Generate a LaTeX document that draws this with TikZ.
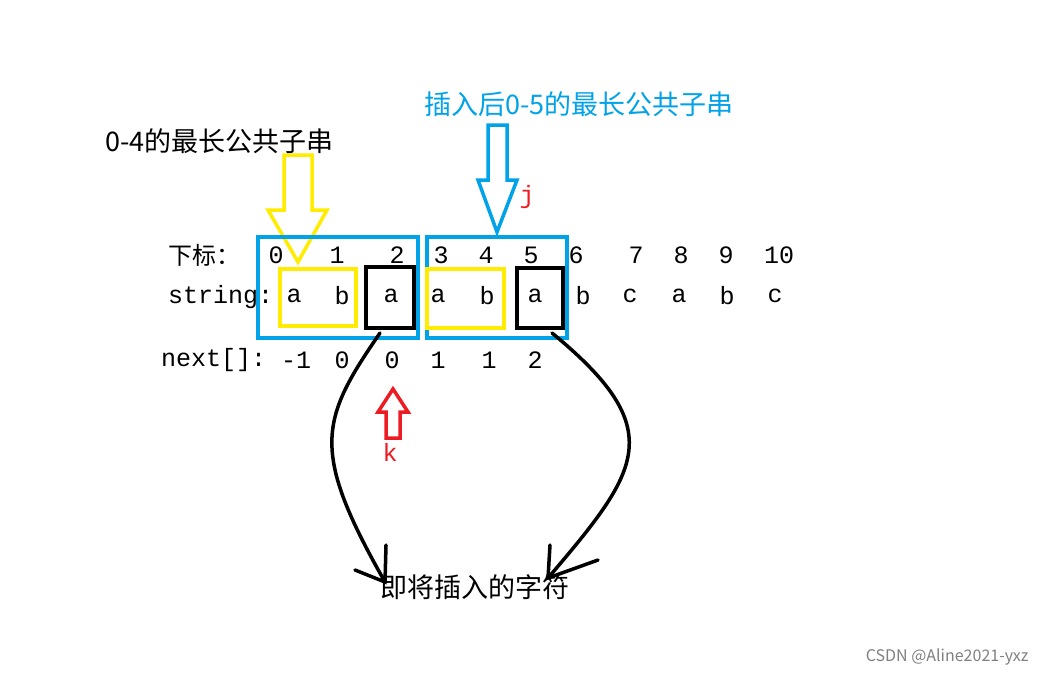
\documentclass[tikz,border=0pt]{standalone}
\usepackage{fontspec}
\setmainfont{Noto Sans CJK SC}
\newfontfamily\lat{Liberation Mono}
\usetikzlibrary{arrows.meta}
\definecolor{sky}{RGB}{0,162,232}
\definecolor{yel}{RGB}{255,236,0}
\definecolor{rd}{RGB}{237,28,36}
\begin{document}
\begin{tikzpicture}[x=1pt,y=-1pt,
  txt/.style={font=\fontsize{27}{27}\selectfont,inner sep=0pt},
  lt/.style={font=\lat\fontsize{25}{25}\selectfont,inner sep=0pt},
  bx/.style={line width=3.5pt}]
\useasboundingbox[fill=white] (0,0) rectangle (1048,677);
\node[txt,anchor=west] (t1) at (105,141) {0-4的最长公共子串};
\node[txt,anchor=west,text=sky] (t2) at (424,104) {插入后0-5的最长公共子串};
% hollow arrows
\draw[yel,line width=3.5pt,line join=miter] (284,155)--(312,155)--(312,210)--(327,210)--(298,262)--(268,210)--(284,210)--cycle;
\draw[sky,line width=3.5pt] (488,125)--(507,125)--(507,180)--(517,180)--(497,232)--(478,180)--(488,180)--cycle;
\draw[rd,line width=3.5pt] (393,389)--(408,412)--(400,412)--(400,438)--(386,438)--(386,412)--(378,412)--cycle;
\node[lt,text=rd] (j) at (527,197) {j};
\node[lt,text=rd] (k) at (390,452) {k};
% boxes
\draw[bx,sky] (258,237) rectangle (418,338);
\draw[bx,sky] (427,237) rectangle (567,338);
\draw[bx,yel] (280,269) rectangle (356,326);
\draw[bx,yel] (427,269) rectangle (504,328);
\draw[bx,black] (366,267) rectangle (414,328);
\draw[bx,black] (517,268) rectangle (563,328);
% rows
\node[font=\fontsize{24}{24}\selectfont,inner sep=0pt,anchor=west] (r1) at (168,255) {下标：};
\foreach \x/\v in {276/0,337/1,397/2,441/3,486/4,531/5,576/6,636/7,681/8,726/9,779/10}
  \node[lt] at (\x,255) {\v};
\node[lt,anchor=west] (r2) at (168,297) {string:};
\foreach \x/\v in {294/a,342/b,391/a,438/a,487/b,535/a,583/b,630/c,679/a,727/b,775/c}
  \node[lt] at (\x,296) {\v};
\node[lt,anchor=west] (r3) at (161,360) {next[]:};
\foreach \x/\v in {296/-1,342/0,392/0,438/1,489/1,535/2}
  \node[lt] at (\x,360) {\v};
\node[txt] (bot) at (475,587) {即将插入的字符};
\coordinate (a1) at (380,333);
\coordinate (a2) at (385,582);
\coordinate (b1) at (552,333);
\coordinate (b2) at (548,578);
\draw[line width=3.5pt,line cap=round] (a1) .. controls (320,420) and (310,450) .. (a2);
\draw[line width=3.5pt,line cap=round] (355,570)--(a2)--(386,545);
\draw[line width=3.5pt,line cap=round] (b1) .. controls (670,430) and (640,470) .. (b2);
\draw[line width=3.5pt,line cap=round] (550,545)--(b2)--(598,560);
\node[font=\fontsize{16}{16}\selectfont,text=gray,anchor=east] (w) at (1032,657) {CSDN @Aline2021-yxz};
\end{tikzpicture}
\end{document}
